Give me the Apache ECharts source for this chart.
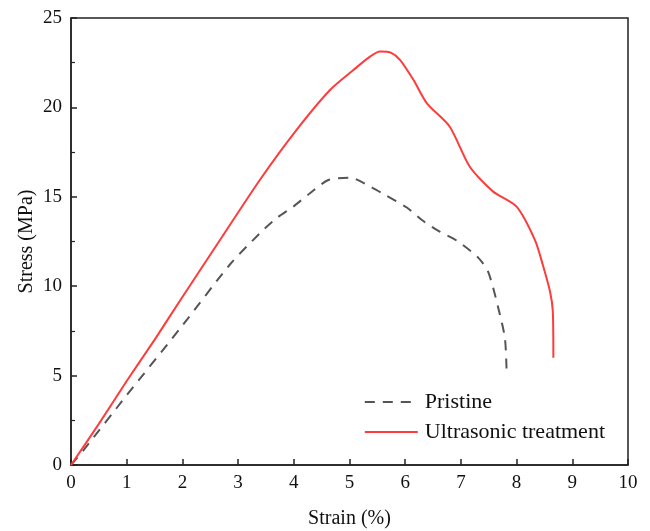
<!DOCTYPE html>
<html>
<head>
<meta charset="utf-8">
<script src="https://cdn.jsdelivr.net/npm/echarts@6/dist/echarts.min.js"></script>
<style>
  html, body { margin: 0; padding: 0; background: #fff; }
  #chart { width: 650px; height: 531px; }
</style>
</head>
<body>
<div id="chart"></div>
<script>
// 读图得到的数据
const pristineStrain = [0, 0.25, 1, 2, 2.85, 3.39, 3.69, 3.99, 4.29, 4.62, 5.01, 5.37, 5.64, 6.03, 6.3, 6.62, 6.95, 7.31, 7.49, 7.67, 7.79, 7.82];
const pristineStress = [0, 0.93, 3.9, 7.8, 11.2, 12.96, 13.8, 14.45, 15.2, 15.94, 16.07, 15.57, 15.1, 14.4, 13.7, 13.05, 12.5, 11.6, 10.8, 8.8, 7.1, 5.3];
const ultraStrain = [0, 0.5, 1, 1.5, 2, 2.675, 3.39, 4.05, 4.65, 5.07, 5.35, 5.55, 5.75, 5.91, 6.15, 6.39, 6.8, 7.16, 7.58, 8.0, 8.33, 8.47, 8.6, 8.65, 8.66];
const ultraStress = [0, 2.3, 4.7, 7.0, 9.4, 12.58, 15.94, 18.74, 20.97, 22.09, 22.8, 23.12, 23.05, 22.65, 21.53, 20.23, 18.92, 16.68, 15.29, 14.45, 12.58, 11.2, 9.7, 8.6, 6.0];
const seriesNames = ["Pristine", "Ultrasonic treatment"];

const font = "'Liberation Serif', 'Times New Roman', serif";
const pairs = (xs, ys) => xs.map((x, i) => [x, ys[i]]);

const chart = echarts.init(document.getElementById("chart"));

const options = {
    animation: false,
    textStyle: { fontFamily: font },
    grid: {
        left: 71, right: 22, top: 18, bottom: 66,
        outerBoundsMode: "none",
        show: true, borderColor: "#222", borderWidth: 1.5
    },
    legend: {
        data: seriesNames,
        orient: "vertical",
        right: 40,
        bottom: 83,
        itemWidth: 53,
        itemHeight: 10,
        itemGap: 8,
        itemStyle: { opacity: 0 },
        textStyle: { fontFamily: font, fontSize: 22, color: "#111", padding: [0, 0, 0, 2] }
    },
    //横坐标
    xAxis: {
        type: "value",
        min: 0, max: 10, interval: 1,
        name: "Strain (%)",
        nameLocation: "middle",
        nameGap: 44,
        nameMoveOverlap: false,
        nameTextStyle: { fontFamily: font, fontSize: 20, color: "#111" },
        axisLine: { lineStyle: { color: "#222", width: 1.5 } },
        axisTick: { inside: true, length: 6, lineStyle: { color: "#222", width: 1.5 } },
        axisLabel: { fontFamily: font, fontSize: 19, color: "#111", margin: 9 },
        splitLine: { show: false }
    },
    //纵坐标
    yAxis: {
        type: "value",
        min: 0, max: 25, interval: 5,
        name: "Stress (MPa)",
        nameLocation: "middle",
        nameGap: 34,
        nameMoveOverlap: false,
        nameTextStyle: { fontFamily: font, fontSize: 20, color: "#111" },
        axisLine: { lineStyle: { color: "#222", width: 1.5 } },
        axisTick: { inside: true, length: 6, lineStyle: { color: "#222", width: 1.5 } },
        minorTick: { show: true, splitNumber: 2, length: 4, lineStyle: { color: "#222", width: 1.2 } },
        axisLabel: { fontFamily: font, fontSize: 19, color: "#111", margin: 9 },
        splitLine: { show: false }
    },
    series: [
        {
            name: seriesNames[0],
            type: "line",
            data: pairs(pristineStrain, pristineStress),
            smooth: 0.25,
            symbol: "none",
            lineStyle: { color: "#555", width: 2, type: [10, 8] },
            itemStyle: { color: "#555" }
        },
        {
            name: seriesNames[1],
            type: "line",
            data: pairs(ultraStrain, ultraStress),
            smooth: 0.25,
            symbol: "none",
            lineStyle: { color: "#ff3b3b", width: 2 },
            itemStyle: { color: "#ff3b3b" }
        }
    ]
};

chart.setOption(options);
</script>
</body>
</html>
